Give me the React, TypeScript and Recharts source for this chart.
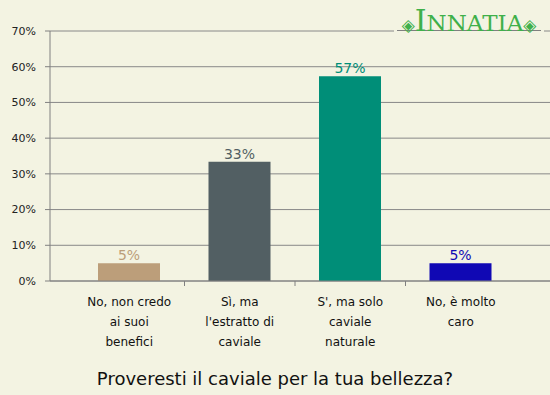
import React from 'react';
import { BarChart, Bar, XAxis, YAxis, CartesianGrid, Cell, LabelList } from 'recharts';

const categories: string[][] = [
  ['No, non credo', 'ai suoi', 'benefici'],
  ['Sì, ma', "l'estratto di", 'caviale'],
  ["S', ma solo", 'caviale', 'naturale'],
  ['No, è molto', 'caro'],
];
const values: number[] = [5, 33.4, 57.3, 5];
const colors: string[] = ['#bc9e7a', '#525f63', '#008e78', '#1008b4'];
const yTicks: number[] = [0, 10, 20, 30, 40, 50, 60, 70];
const title = 'Proveresti il caviale per la tua bellezza?';

const data = categories.map((c, i) => ({ name: c.join(' '), idx: i, value: values[i] }));

const FONT = '"DejaVu Sans", Verdana, sans-serif';

const CatTick = (props: any) => {
  const { x, y, payload, index } = props;
  const i0 = typeof index === 'number' ? index : payload.index;
  const lines = categories[i0] || [];
  const half = 55.25;
  return (
    <g>
      {i0 > 0 && (
        <line x1={x - half} x2={x - half} y1={y - 8} y2={y - 3} stroke="#808080" strokeWidth={1} />
      )}
      {lines.map((l, i) => (
        <text key={i} x={x} y={y + 17 + i * 20} textAnchor="middle" fontSize={12} fontFamily={FONT} fill="#111">
          {l}
        </text>
      ))}
    </g>
  );
};

const TopLabel = (props: any) => {
  const { x, y, width, index, value } = props;
  return (
    <text x={x + width / 2} y={y - 3} textAnchor="middle" fontSize={14} fontFamily={FONT} fill={colors[index]}>
      {Math.round(value)}%
    </text>
  );
};

export default function App() {
  return (
    <div style={{ position: 'absolute', left: 0, top: 0, width: 550, height: 395, background: '#f3f3e2', overflow: 'hidden' }}>
      <BarChart width={550} height={395} data={data} margin={{ top: 31, right: 0, left: 0, bottom: 24 }}>
        <CartesianGrid horizontal vertical={false} stroke="#888888" strokeWidth={1} />
        <XAxis
          dataKey="name"
          padding={{ left: 24, right: 34 }}
          height={90}
          axisLine={{ stroke: '#808080' }}
          tickLine={false}
          interval={0}
          tick={<CatTick />}
        />
        <YAxis
          width={50}
          domain={[0, 70]}
          ticks={yTicks}
          tickFormatter={(v: number) => `${v}%`}
          axisLine={{ stroke: '#808080' }}
          tickLine={{ stroke: '#808080' }}
          tickSize={5}
          tickMargin={9}
          tick={{ fontSize: 11, fontFamily: FONT, fill: '#222' }}
        />
        <Bar dataKey="value" barSize={62} isAnimationActive={false}>
          {data.map((d, i) => (
            <Cell key={i} fill={colors[i]} />
          ))}
          <LabelList dataKey="value" content={<TopLabel />} />
        </Bar>
      </BarChart>
      <div style={{ position: 'absolute', left: 0, top: 367, width: 550, textAlign: 'center', fontFamily: FONT, fontSize: 18, color: '#111', lineHeight: '24px' }}>
        {title}
      </div>
      <svg style={{ position: 'absolute', left: 394, top: 0, overflow: 'visible' }} width={150} height={44}>
        <rect x={0} y={0} width={150} height={33} fill="#f3f3e2" />
        <line x1={3} x2={147} y1={30.5} y2={30.5} stroke="#808080" strokeWidth={1} />
        <text x={75} y={31} textAnchor="middle" fontFamily='"DejaVu Serif", "Liberation Serif", serif' fill="#3fb04a">
          <tspan fontSize={17}>◈</tspan>
          <tspan fontSize={30}>I</tspan>
          <tspan fontSize={23}>NNATIA</tspan>
          <tspan fontSize={17}>◈</tspan>
        </text>
      </svg>
    </div>
  );
}
